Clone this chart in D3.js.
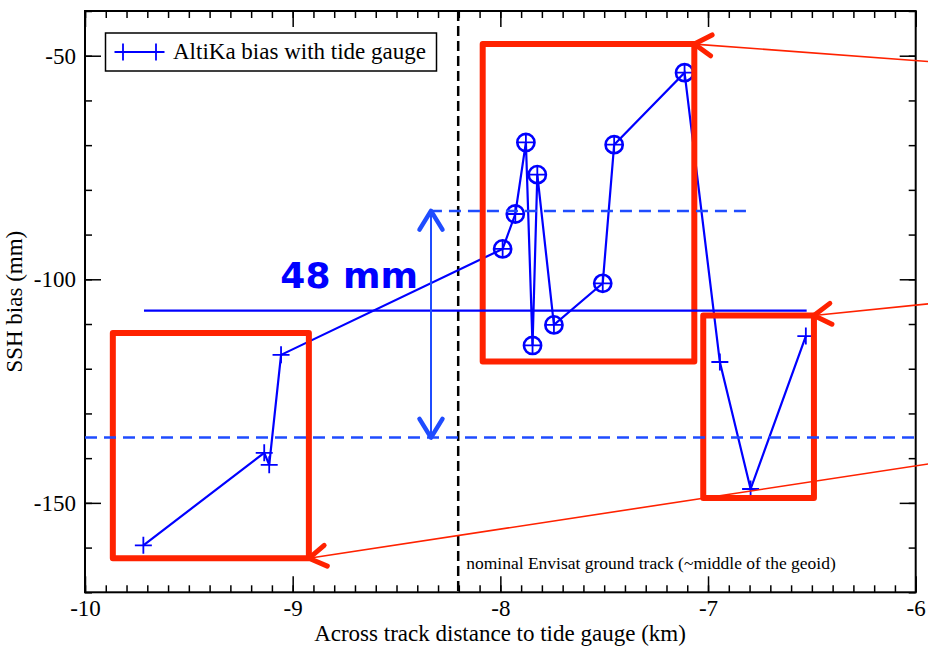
<!DOCTYPE html>
<html><head><meta charset="utf-8">
<script src="https://cdn.jsdelivr.net/npm/d3@7"></script>
<style>
body{margin:0;background:#fff;}
svg text{font-family:"Liberation Serif","Times New Roman",serif;}
</style></head>
<body><svg id="c" width="928" height="649"></svg>
<script>
// ---- data ----
const distKm = [-9.719,-9.137,-9.113,-9.056,-7.989,-7.928,-7.877,-7.845,-7.822,-7.742,-7.507,-7.452,-7.113,-6.943,-6.795,-6.529];
const biasMm = [-159.5,-138.8,-141.5,-116.9,-93.2,-85.4,-69.4,-114.8,-76.6,-110.2,-100.9,-69.9,-53.8,-118.5,-146.9,-112.7];
const circled = [4,5,6,7,8,9,10,11,12];
const meanBias = -107.0;
const meanSpan = [-9.716,-6.525];
const upperBias = -84.7;
const upperSpan = [-8.339,-6.805];
const lowerBias = -135.4;
const arrowX = -8.334;
const envisatX = -8.203;
const redBoxes = [[-9.866,-112.0,-8.922,-162.4],[-8.085,-47.4,-7.066,-118.4],[-7.023,-108.1,-6.490,-148.9]];
const redArrowFrom = [[-5.94,-51.3],[-5.94,-105.5],[-5.94,-141.3]];
const redArrowTo = [[-7.066,-47.4],[-6.490,-108.1],[-8.922,-162.4]];
const xTicks = [-10,-9,-8,-7,-6];
const yTicks = [-150,-100,-50];
const legendLabel = "AltiKa bias with tide gauge";
const xTitle = "Across track distance to tide gauge (km)";
const yTitle = "SSH bias (mm)";
const diffLabel = "48 mm";
const envisatLabel = "nominal Envisat ground track (~middle of the geoid)";

// ---- layout ----
const svg = d3.select("#c");
const L=85, R=915.7, T=11, B=592.3;
const x = d3.scaleLinear().domain([-10,-6]).range([L,R]);
const y = d3.scaleLinear().domain([-170,-40]).range([B,T]);
const blue="#0000ff", dblue="#1f4cff", red="#ff2200";

// axes (ticks inward on all four sides)
const xMinor = d3.range(-10,-5.99,0.1).map(v=>+v.toFixed(1));
const yMinor = d3.range(-170,-39,10);
function axisG(axis, tr){ const g=svg.append("g").attr("transform",tr).call(axis); g.select(".domain").remove(); g.selectAll("line").attr("stroke","#000").attr("stroke-width",1.5); return g;}
axisG(d3.axisBottom(x).tickValues(xMinor).tickSize(-7).tickFormat(""),`translate(0,${B})`);
axisG(d3.axisTop(x).tickValues(xMinor).tickSize(-7).tickFormat(""),`translate(0,${T})`);
axisG(d3.axisLeft(y).tickValues(yMinor).tickSize(-7).tickFormat(""),`translate(${L},0)`);
axisG(d3.axisRight(y).tickValues(yMinor).tickSize(-7).tickFormat(""),`translate(${R},0)`);
const fmt = d=>String(d);
axisG(d3.axisBottom(x).tickValues(xTicks).tickSize(-16).tickPadding(7).tickFormat(fmt),`translate(0,${B})`)
  .selectAll("text").attr("font-size",23).attr("fill","#000");
axisG(d3.axisTop(x).tickValues(xTicks).tickSize(-16).tickFormat(""),`translate(0,${T})`);
axisG(d3.axisLeft(y).tickValues(yTicks).tickSize(-16).tickPadding(9).tickFormat(fmt),`translate(${L},0)`)
  .selectAll("text").attr("font-size",23).attr("fill","#000");
axisG(d3.axisRight(y).tickValues(yTicks).tickSize(-16).tickFormat(""),`translate(${R},0)`);
svg.append("rect").attr("x",L).attr("y",T).attr("width",R-L).attr("height",B-T)
  .attr("fill","none").attr("stroke","#000").attr("stroke-width",2);

// axis titles
svg.append("text").attr("x",500).attr("y",641).attr("text-anchor","middle")
  .attr("font-size",23).text(xTitle);
svg.append("text").attr("transform",`translate(22,${(T+B)/2}) rotate(-90)`).attr("text-anchor","middle")
  .attr("font-size",23).text(yTitle);

// Envisat track
svg.append("line").attr("x1",x(envisatX)).attr("x2",x(envisatX)).attr("y1",T).attr("y2",B)
  .attr("stroke","#000").attr("stroke-width",2.5).attr("stroke-dasharray","10,5");
svg.append("text").attr("x",x(envisatX)+8).attr("y",569).attr("font-size",17.5).text(envisatLabel);

// data line
const pts = distKm.map((d,i)=>[d,biasMm[i]]);
svg.append("path").datum(pts).attr("fill","none").attr("stroke",blue).attr("stroke-width",2.2)
  .attr("d",d3.line().x(d=>x(d[0])).y(d=>y(d[1])));
const plus = (g,s)=>g.append("path").attr("d",`M${-s},0H${s}M0,${-s}V${s}`).attr("stroke",blue).attr("stroke-width",1.8).attr("fill","none");
svg.append("g").selectAll("g").data(pts).join("g")
  .attr("transform",d=>`translate(${x(d[0])},${y(d[1])})`).each(function(){plus(d3.select(this),8.5);});
svg.append("g").selectAll("circle").data(circled.map(i=>pts[i])).join("circle")
  .attr("cx",d=>x(d[0])).attr("cy",d=>y(d[1])).attr("r",8.6)
  .attr("fill","none").attr("stroke",blue).attr("stroke-width",2.6);

// red boxes
svg.append("g").selectAll("rect").data(redBoxes).join("rect")
  .attr("x",d=>x(d[0])).attr("y",d=>y(d[1])).attr("width",d=>x(d[2])-x(d[0])).attr("height",d=>y(d[3])-y(d[1]))
  .attr("fill","none").attr("stroke",red).attr("stroke-width",6).attr("stroke-linejoin","round");

// red arrows
function head(g,tx,ty,fx,fy,len,ang,color,w){
  const a=Math.atan2(fy-ty,fx-tx);
  const p1=[tx+len*Math.cos(a+ang),ty+len*Math.sin(a+ang)], p2=[tx+len*Math.cos(a-ang),ty+len*Math.sin(a-ang)];
  g.append("path").attr("d",`M${p1}L${tx},${ty}L${p2}`).attr("fill","none").attr("stroke",color)
   .attr("stroke-width",w).attr("stroke-linecap","round").attr("stroke-linejoin","round");
}
redArrowFrom.forEach((f,i)=>{
  const t=redArrowTo[i];
  svg.append("line").attr("x1",x(f[0])).attr("y1",y(f[1])).attr("x2",x(t[0])).attr("y2",y(t[1]))
    .attr("stroke",red).attr("stroke-width",1.6);
  head(svg,x(t[0]),y(t[1]),x(f[0]),y(f[1]),20,0.55,red,5);
});

// reference lines
svg.append("line").attr("x1",x(meanSpan[0])).attr("x2",x(meanSpan[1])).attr("y1",y(meanBias)).attr("y2",y(meanBias))
  .attr("stroke",blue).attr("stroke-width",2.2);
svg.append("line").attr("x1",x(upperSpan[0])).attr("x2",x(upperSpan[1])).attr("y1",y(upperBias)).attr("y2",y(upperBias))
  .attr("stroke",dblue).attr("stroke-width",2.5).attr("stroke-dasharray","12,7");
svg.append("line").attr("x1",L).attr("x2",R).attr("y1",y(lowerBias)).attr("y2",y(lowerBias))
  .attr("stroke",dblue).attr("stroke-width",2.5).attr("stroke-dasharray","12,7");

// double arrow
svg.append("line").attr("x1",x(arrowX)).attr("x2",x(arrowX)).attr("y1",y(upperBias)).attr("y2",y(lowerBias))
  .attr("stroke",dblue).attr("stroke-width",2);
head(svg,x(arrowX),y(upperBias),x(arrowX),y(lowerBias),22,0.55,dblue,4.5);
head(svg,x(arrowX),y(lowerBias),x(arrowX),y(upperBias),22,0.55,dblue,4.5);
svg.append("text").attr("x",x(arrowX)-13).attr("y",288).attr("text-anchor","end")
  .style("font-family","'DejaVu Sans', sans-serif").style("font-weight","bold").attr("font-size",36)
  .attr("fill",blue).text(diffLabel);

// legend
svg.append("rect").attr("x",105.5).attr("y",33).attr("width",331).attr("height",38)
  .attr("fill","#fff").attr("stroke","#000").attr("stroke-width",1.5);
svg.append("line").attr("x1",115).attr("x2",163).attr("y1",52).attr("y2",52).attr("stroke",blue).attr("stroke-width",2);
[123,156].forEach(px=>plus(svg.append("g").attr("transform",`translate(${px},52)`),8.5));
svg.append("text").attr("x",173).attr("y",59).attr("font-size",23).text(legendLabel);
</script></body></html>
